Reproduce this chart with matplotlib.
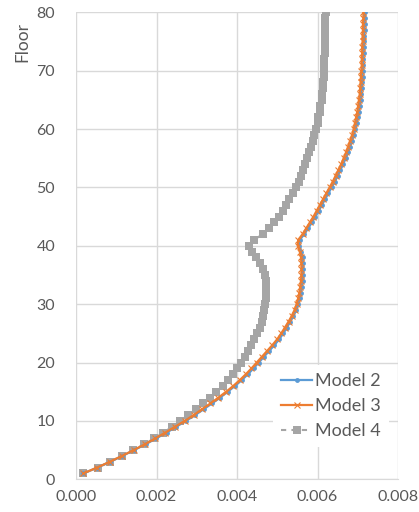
import matplotlib
matplotlib.use("Agg")
import matplotlib.pyplot as plt
from matplotlib.ticker import MultipleLocator, FormatStrFormatter

plt.rcParams['font.family'] = ['Lato', 'DejaVu Sans']

floors = list(range(1, 81))

model2 = [0.00018, 0.00053, 0.00085, 0.00115, 0.00144, 0.00173, 0.00199, 0.00225, 0.00249, 0.00273,
          0.00296, 0.00317, 0.00338, 0.00358, 0.00377, 0.00395, 0.00412, 0.00427, 0.00441, 0.00454,
          0.00467, 0.00480, 0.00493, 0.00505, 0.00515, 0.00524, 0.00532, 0.00540, 0.00547, 0.00552,
          0.00556, 0.00559, 0.00561, 0.00563, 0.00564, 0.00564, 0.00564, 0.00563, 0.00560, 0.00555,
          0.00556, 0.00567, 0.00577, 0.00586, 0.00595, 0.00603, 0.00611, 0.00619, 0.00627, 0.00635,
          0.00643, 0.00650, 0.00657, 0.00664, 0.00670, 0.00676, 0.00681, 0.00686, 0.00690, 0.00694,
          0.00697, 0.00700, 0.00703, 0.00705, 0.00707, 0.00709, 0.00710, 0.00711, 0.00712, 0.00713,
          0.00714, 0.00714, 0.00715, 0.00715, 0.00716, 0.00716, 0.00717, 0.00717, 0.00718, 0.00718]

model3 = [0.00018, 0.00052, 0.00084, 0.00114, 0.00143, 0.00171, 0.00197, 0.00222, 0.00246, 0.00270,
          0.00292, 0.00313, 0.00334, 0.00354, 0.00373, 0.00391, 0.00407, 0.00422, 0.00436, 0.00449,
          0.00462, 0.00475, 0.00488, 0.00500, 0.00510, 0.00519, 0.00528, 0.00536, 0.00543, 0.00548,
          0.00552, 0.00555, 0.00557, 0.00559, 0.00560, 0.00560, 0.00560, 0.00559, 0.00556, 0.00551,
          0.00552, 0.00563, 0.00572, 0.00581, 0.00590, 0.00598, 0.00606, 0.00614, 0.00622, 0.00630,
          0.00638, 0.00645, 0.00652, 0.00659, 0.00665, 0.00671, 0.00676, 0.00681, 0.00686, 0.00690,
          0.00693, 0.00696, 0.00699, 0.00701, 0.00703, 0.00705, 0.00706, 0.00707, 0.00708, 0.00709,
          0.00710, 0.00710, 0.00711, 0.00711, 0.00712, 0.00712, 0.00713, 0.00713, 0.00714, 0.00714]

model4 = [0.00018, 0.00054, 0.00084, 0.00114, 0.00142, 0.00169, 0.00194, 0.00217, 0.00239, 0.00259,
          0.00279, 0.00298, 0.00316, 0.00333, 0.00349, 0.00364, 0.00378, 0.00391, 0.00400, 0.00409,
          0.00419, 0.00428, 0.00436, 0.00443, 0.00450, 0.00456, 0.00461, 0.00465, 0.00468, 0.00470,
          0.00472, 0.00473, 0.00473, 0.00472, 0.00470, 0.00465, 0.00458, 0.00448, 0.00437, 0.00431,
          0.00442, 0.00464, 0.00480, 0.00492, 0.00504, 0.00514, 0.00522, 0.00530, 0.00538, 0.00546,
          0.00553, 0.00559, 0.00565, 0.00570, 0.00575, 0.00580, 0.00584, 0.00588, 0.00592, 0.00596,
          0.00600, 0.00602, 0.00605, 0.00607, 0.00610, 0.00611, 0.00613, 0.00614, 0.00615, 0.00616,
          0.00617, 0.00617, 0.00618, 0.00618, 0.00618, 0.00619, 0.00619, 0.00619, 0.00619, 0.00620]

labels = ["Model 2", "Model 3", "Model 4"]
colors = ["#5B9BD5", "#ED7D31", "#A5A5A5"]

fig = plt.figure(figsize=(4.19, 5.12), dpi=100)
ax = fig.add_axes([76/419, 1 - 479.3/512, 322/419, 467/512])

ax.plot(model4, floors, color=colors[2], linestyle=(0, (2.5, 2.5)), linewidth=1.5,
        marker='s', markersize=6, markeredgewidth=0, label=labels[2], zorder=3)
ax.plot(model2, floors, color=colors[0], linewidth=1.6,
        marker='o', markersize=3.5, markeredgewidth=0, label=labels[0], zorder=4)
ax.plot(model3, floors, color=colors[1], linewidth=1.6,
        marker='x', markersize=4, markeredgewidth=0.8, label=labels[1], zorder=5)

ax.set_xlim(0, 0.008)
ax.set_ylim(0, 80)
ax.xaxis.set_major_locator(MultipleLocator(0.002))
ax.xaxis.set_major_formatter(FormatStrFormatter('%.3f'))
ax.yaxis.set_major_locator(MultipleLocator(10))
ax.grid(True, color='#D9D9D9', linewidth=1)
ax.set_axisbelow(True)
for s in ax.spines.values():
    s.set_visible(False)
ax.spines['bottom'].set_visible(True)
ax.spines['bottom'].set_color('#D9D9D9')
ax.tick_params(length=0, labelsize=11.5, colors='#595959')
ax.tick_params(axis='x', pad=8)
ax.tick_params(axis='y', pad=15)

ax.text(-0.165, 0.98, "Floor", transform=ax.transAxes, rotation=90,
        ha='center', va='top', fontsize=12.5, color='#595959')

h, l = ax.get_legend_handles_labels()
order = [1, 2, 0]
leg = ax.legend([h[i] for i in order], [l[i] for i in order],
                loc='upper left', bbox_to_anchor=(0.612, 0.245), fontsize=13,
                frameon=True, facecolor='white', edgecolor='none', framealpha=1,
                fancybox=False, handlelength=1.7, handletextpad=0.2,
                labelspacing=0.5, borderpad=0.45, borderaxespad=0)
for t in leg.get_texts():
    t.set_color('#595959')

fig.savefig("out.png", dpi=100)
